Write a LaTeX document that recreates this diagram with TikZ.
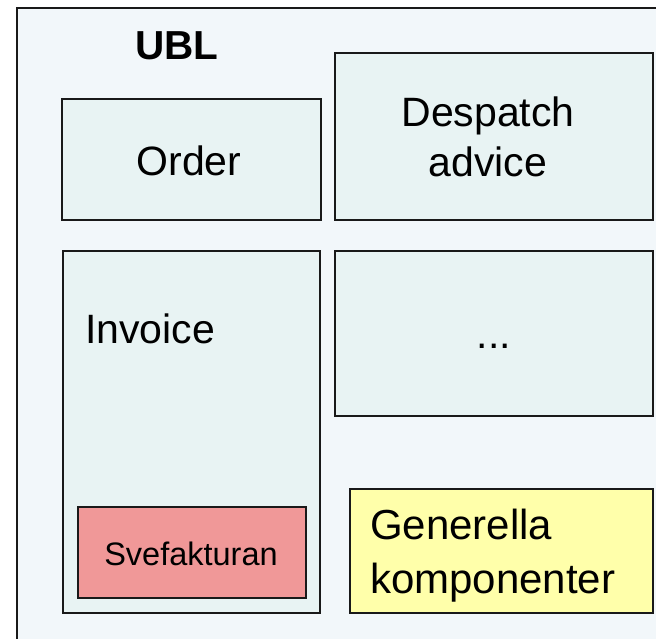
\documentclass[tikz,border=0pt]{standalone}
\usepackage{fontspec}
\setmainfont{Liberation Sans}
\definecolor{ublbg}{HTML}{F2F7FA}
\definecolor{docfill}{HTML}{E8F3F3}
\definecolor{svered}{HTML}{F09898}
\definecolor{genyellow}{HTML}{FFFFAA}
\tikzstyle{docbox}=[rectangle, draw=black!90, fill=docfill, line width=1.6pt, inner sep=0pt]
\tikzstyle{label}=[inner sep=0pt, anchor=base, font=\fontsize{41}{48}\selectfont]

\begin{document}
\begin{tikzpicture}[x=1pt, y=-1pt]
                    \useasboundingbox (0,0) rectangle (656,639);
                    \clip (0,0) rectangle (656,639);
                    \node[docbox, fill=ublbg, minimum width=663pt, minimum height=652pt] (ubl) at (348.5,334) {};
                    \node[docbox, minimum width=259pt, minimum height=121pt] (order) at (191.5,159.5) {};
                    \node[docbox, minimum width=318pt, minimum height=167pt] (despatch) at (494,136.5) {};
                    \node[docbox, minimum width=257pt, minimum height=362pt] (invoice) at (191.5,432) {};
                    \node[docbox, minimum width=318pt, minimum height=165pt] (more) at (494,333.5) {};
                    \node[docbox, fill=svered, minimum width=228pt, minimum height=91pt] (svefakt) at (192,552.5) {};
                    \node[docbox, fill=genyellow, minimum width=303pt, minimum height=124pt] (generella) at (501.5,551) {};
                    % texts
                    \node[label, font=\fontsize{40.5}{46}\selectfont\bfseries] (ublT) at (177,60) {UBL};
                    \node[label] (orderT) at (189,176) {Order};
                    \node[label] (despatchT1) at (488,127) {Despatch};
                    \node[label] (despatchT2) at (488,177) {advice};
                    \node[label, anchor=base west] (invoiceT) at (85,343) {Invoice};
                    \node[label] (moreT) at (494,348) {...};
                    \node[label, font=\fontsize{32.5}{36}\selectfont] (svefaktT) at (191,565) {Svefakturan};
                    \node[label, anchor=base west, font=\fontsize{42}{48}\selectfont] (generellaT1) at (370,539) {Generella};
                    \node[label, anchor=base west, font=\fontsize{42}{48}\selectfont] (generellaT2) at (370,593) {komponenter};
                \end{tikzpicture}
\end{document}
